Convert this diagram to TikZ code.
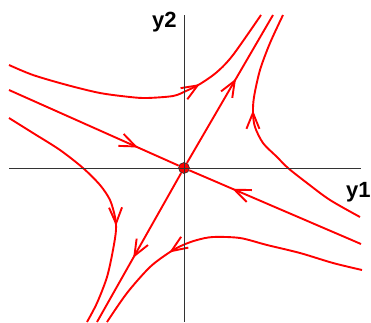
\documentclass[tikz,border=0pt]{standalone}
\usepackage{fontspec}
\setmainfont{Liberation Sans}
\usetikzlibrary{arrows.meta,decorations.markings}

\tikzset{
  traj/.style={red, line width=1.9pt},
  midarrow/.style={postaction={decorate}, decoration={markings,
      mark=at position #1 with {\arrow{Straight Barb[length=16pt,width=13pt]}}}},
  axis/.style={black!80, line width=0.7pt},
  lab/.style={inner sep=0pt, anchor=base west, font=\bfseries\fontsize{22}{22}\selectfont}
}

\begin{document}
\begin{tikzpicture}[x=1pt,y=-1pt]
  \useasboundingbox (0,0) rectangle (371,322);
  % end points of the eigen-lines and the axes
  \coordinate (SL) at (9,90); \coordinate (SR) at (361,244);
  \coordinate (UT) at (273,15); \coordinate (UB) at (97,322);
  \coordinate (XL) at (9,168); \coordinate (XR) at (361,168);
  \coordinate (YT) at (184,15); \coordinate (YB) at (184,322);
  \node[circle, fill=red, draw=black!80, line width=0.6pt,
    minimum size=11pt, inner sep=0pt] (O) at (184,168) {};
  % stable and unstable lines
  \draw[traj, midarrow=0.76] (SL) -- (O);
  \draw[traj, midarrow=0.75] (SR) -- (O);
  \draw[traj, midarrow=0.57] (O) -- (UT);
  \draw[traj, midarrow=0.57] (O) -- (UB);
  % trajectories
  \draw[traj, midarrow=0.68] plot[smooth] coordinates {(9,65) (33,75) (67,85)
    (100,93) (130,97) (147,98) (173,96) (186,91) (200,84) (217,72) (233,55) (261,15)};
  \draw[traj, midarrow=0.61] plot[smooth] coordinates {(360,217) (330,200) (307,183)
    (288,168) (277,157) (263,143) (255,127) (253,113) (254,97) (260,70) (270,43) (283,15)};
  \draw[traj, midarrow=0.61] plot[smooth] coordinates {(9,118) (33,133) (60,150)
    (83,168) (100,185) (110,200) (115,217) (116,230) (113,250) (107,277) (97,303) (87,322)};
  \draw[traj, midarrow=0.68] plot[smooth] coordinates {(362,270) (333,263) (300,253)
    (267,245) (240,238) (213,237) (197,240) (183,245) (170,252) (150,267) (127,293) (107,322)};
  % axes
  \draw[axis] (XL) -- (XR);
  \draw[axis] (YT) -- (YB);
  \node[lab] (ly2) at (152,27) {y2};
  \node[lab] (ly1) at (346,197) {y1};
\end{tikzpicture}
\end{document}
